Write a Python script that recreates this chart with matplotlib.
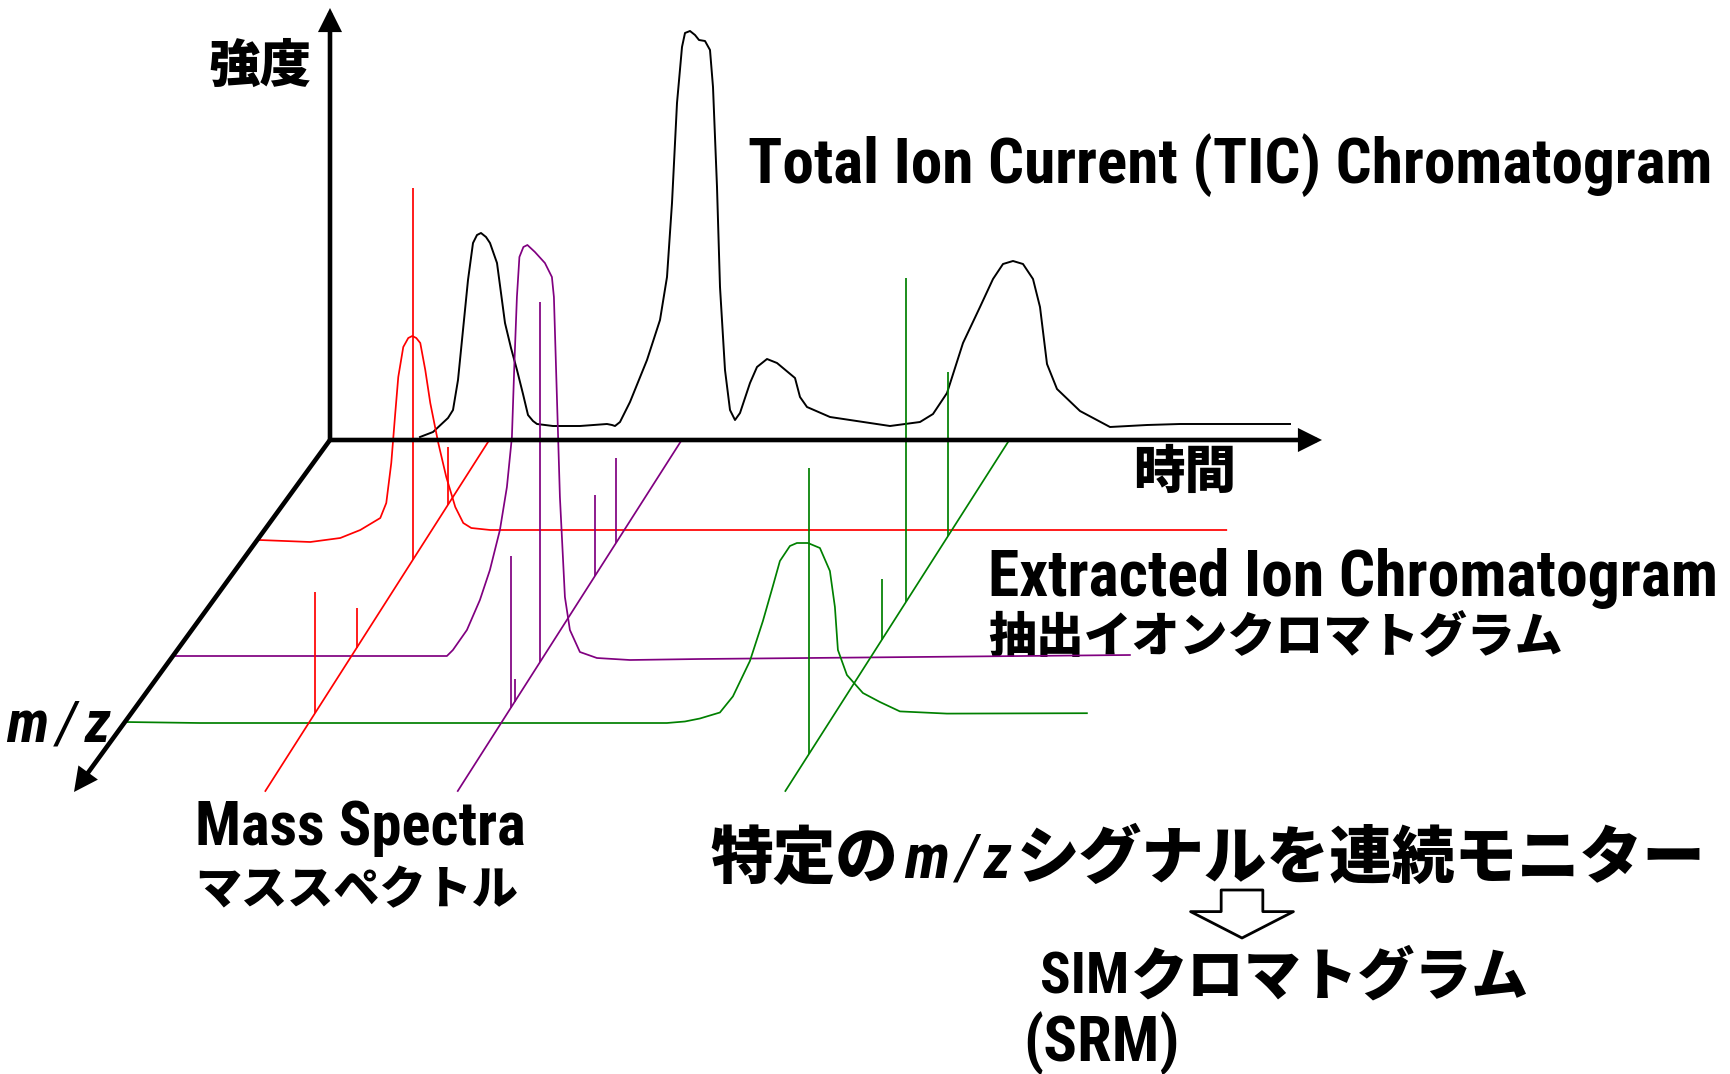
import numpy as np
import matplotlib
matplotlib.use("Agg")
import matplotlib.pyplot as plt
from matplotlib import font_manager

# ---------------- data (time / intensity / m/z-depth units) ----------------
# Total ion current chromatogram
TIC_TIME = [90, 103, 118, 123, 128, 133, 138, 143, 147, 151, 156, 160, 167, 175, 181, 187, 193, 198, 203, 207,
            223, 250, 277, 282, 285, 290, 300, 317, 330, 337, 342, 347, 352, 355, 360, 365, 369, 375, 380, 383,
            387, 390, 395, 400, 405, 410, 420, 427, 437, 447, 465, 470, 477, 500, 560, 590, 603, 617, 633, 650,
            663, 673, 683, 693, 703, 710, 717, 727, 750, 780, 817, 850, 960]
TIC_INT = [3, 8, 22, 30, 60, 110, 160, 197, 205, 207, 203, 197, 177, 117, 92, 70, 46, 25, 19, 16,
           14, 14, 16, 15, 14, 18, 38, 80, 120, 163, 237, 337, 393, 407, 409, 405, 400, 399, 390, 353,
           253, 153, 70, 30, 20, 27, 57, 73, 81, 77, 62, 43, 33, 23, 14, 18, 26, 47, 97, 133,
           161, 176, 179, 176, 161, 133, 76, 51, 29, 13, 15, 16, 16]

# Extracted ion chromatograms (one per m/z level)
EIC_DEPTH = [100, 216, 282]          # red, purple, green m/z level
RED_TIME = [2, 53, 83, 103, 123, 129, 134, 138, 141, 146, 151, 155, 159, 163, 168, 173, 181, 189, 198, 206,
            214, 233, 443, 969]
RED_INT = [0, -2, 2, 10, 22, 37, 77, 127, 163, 193, 202, 204, 202, 197, 170, 137, 97, 63, 33, 17,
           12, 10, 10, 10]
PURPLE_TIME = [0, 27, 274, 280, 294, 307, 317, 327, 334, 339, 341.5, 344, 346.5, 350.5, 354.5, 362, 372, 379,
               381, 384, 387, 392, 397, 407, 424, 457, 527, 957]
PURPLE_INT = [0, 0, 0, 6, 26, 56, 86, 126, 169, 219, 293, 359, 399, 409, 411, 404, 393, 379,
              359, 259, 159, 59, 26, 4, -2, -4, -3, 1]
GREEN_TIME = [0, 75, 542, 560, 575, 595, 608, 625, 638, 648, 655, 665, 672, 683, 695, 705, 710, 713, 722,
              738, 755, 775, 822, 962]
GREEN_INT = [0, -1, -1, 0.5, 3.5, 9.5, 25.6, 61, 101, 136, 161, 176, 179, 179, 174, 151, 115, 72, 47,
             29, 20, 10.6, 8.4, 8.8]

# Mass spectra (time of each spectrum, stick m/z positions and intensities)
SPEC_TIME = [159.3, 351.7, 679.3]
RED_MS_MZ = [65, 120, 208, 273]
RED_MS_INT = [58, 372, 40, 121]
PURPLE_MS_MZ = [103, 136, 222, 262, 268]
PURPLE_MS_INT = [85, 81, 360, 23, 152]
GREEN_MS_MZ = [96, 162, 200, 313.5]
GREEN_MS_INT = [164, 324, 61, 286]

# axis extents
INT_MAX = 432
TIME_MAX = 992
MZ_MAX = 352
SPEC_MZ_MAX = 351

# ---------------- style / projection ----------------
AXIS_SKEW = -256 / 352     # x-shift per unit of m/z depth for the m/z axis
SPEC_SKEW = -223.3 / 350   # x-shift per unit of m/z depth for spectrum planes
RED, PURPLE, GREEN = "#ff0000", "#800080", "#008000"
TEXT_DX = -7               # small correction of text placement


def proj(t, inten, depth, skew):
    t = np.asarray(t, float)
    inten = np.asarray(inten, float)
    depth = np.asarray(depth, float)
    return t + skew * depth, inten - depth


fig = plt.figure(figsize=(17.31, 10.74), dpi=100)
ax = fig.add_axes([0, 0, 1, 1])
ax.set_xlim(-330, 1401)
ax.set_ylim(-634, 440)
ax.axis("off")

# fonts
names = {f.name for f in font_manager.fontManager.ttflist}
JP = "Noto Sans CJK JP"
LATIN = next((n for n in ["Roboto Condensed", "Liberation Sans Narrow", "DejaVu Sans Condensed"] if n in names), JP)
MIXED = [LATIN, JP, "DejaVu Sans"]

# ---- axes with arrows ----
axis_kw = dict(arrowstyle="-|>", color="black", lw=3.3, shrinkA=0, shrinkB=0, mutation_scale=30,
               joinstyle="miter", capstyle="butt")
ax.annotate("", xy=(0, INT_MAX), xytext=(0, -2), arrowprops=axis_kw, zorder=3)
ax.annotate("", xy=(TIME_MAX, 0), xytext=(-2, 0), arrowprops=axis_kw, zorder=3)
mx, my = proj(0, 0, MZ_MAX, AXIS_SKEW)
ax.annotate("", xy=(float(mx), float(my)), xytext=(0.8, 1.2), arrowprops=axis_kw, zorder=3)

# ---- TIC ----
ax.plot(TIC_TIME, TIC_INT, color="black", lw=1.4, zorder=2, solid_joinstyle="round")

# ---- EICs ----
for tt, ii, d, c in [(RED_TIME, RED_INT, EIC_DEPTH[0], RED),
                     (PURPLE_TIME, PURPLE_INT, EIC_DEPTH[1], PURPLE),
                     (GREEN_TIME, GREEN_INT, EIC_DEPTH[2], GREEN)]:
    x, y = proj(tt, ii, np.full(len(tt), d), AXIS_SKEW)
    ax.plot(x, y, color=c, lw=1.25, zorder=2, solid_joinstyle="round")

# ---- mass spectra ----
for ts, mz, it, c in [(SPEC_TIME[0], RED_MS_MZ, RED_MS_INT, RED),
                      (SPEC_TIME[1], PURPLE_MS_MZ, PURPLE_MS_INT, PURPLE),
                      (SPEC_TIME[2], GREEN_MS_MZ, GREEN_MS_INT, GREEN)]:
    x, y = proj([ts, ts], [0, 0], [0, SPEC_MZ_MAX], SPEC_SKEW)
    ax.plot(x, y, color=c, lw=1.25, zorder=2)
    bx, by = proj(np.full(len(mz), ts), np.zeros(len(mz)), mz, SPEC_SKEW)
    ax.vlines(bx, by, by + np.asarray(it, float), color=c, lw=1.25, zorder=2)

# ---- texts ----
fig.canvas.draw()
renderer = fig.canvas.get_renderer()


def fit_runs(runs, x0, x1, y, va="baseline", gap=0.0):
    x0 += TEXT_DX
    x1 += TEXT_DX
    texts = []
    for s, kw in runs:
        t = ax.text(x0, y, s, ha="left", va=va, fontsize=40, zorder=1, **kw)
        texts.append(t)
    total_gap = gap * (len(runs) - 1)
    for _ in range(3):
        widths = [t.get_window_extent(renderer).width for t in texts]
        scale = (x1 - x0 - total_gap) / sum(widths)
        for t in texts:
            t.set_fontsize(t.get_fontsize() * scale)
    widths = [t.get_window_extent(renderer).width for t in texts]
    x = x0
    for t, w in zip(texts, widths):
        t.set_x(x)
        x += w + gap
    return texts


JPB = dict(family=[JP, "DejaVu Sans"], fontweight="heavy")
MXB = dict(family=MIXED, fontweight="bold")
ITB = dict(family=[LATIN, "DejaVu Sans"], fontweight="bold", fontstyle="italic")
ITL = dict(family=[LATIN, "DejaVu Sans"], fontstyle="italic")

fit_runs([("強度", JPB)], -115, -12, 373, va="center")
fit_runs([("時間", JPB)], 810, 913, -33, va="center")
fit_runs([("Total Ion Current (TIC) Chromatogram", MXB)], 425, 1388, 257)
fit_runs([("Extracted Ion Chromatogram", MXB)], 665, 1395, -156)
fit_runs([("抽出イオンクロマトグラム", JPB)], 665, 1240, -198, va="center")
fit_runs([("m", ITB), ("/", ITL), ("z", ITB)], -317, -212, -302, gap=8)
fit_runs([("Mass Spectra", MXB)], -128, 203, -405)
fit_runs([("マススペクトル", JPB)], -128, 195, -451, va="center")
fit_runs([("特定の", JPB), ("m", ITB), ("/", ITL), ("z", ITB), ("シグナルを連続モニター", JPB)],
         387, 1384, -438, gap=6)
fit_runs([("SIM", MXB), ("クロマトグラム", JPB)], 717, 1206, -538, va="center", gap=2)
fit_runs([("(SRM)", MXB)], 700, 856, -603, va="center")

# hollow down arrow
ax.annotate("", xy=(912, -498), xytext=(912, -450),
            arrowprops=dict(arrowstyle="simple,head_length=1.9,head_width=7.4,tail_width=3.0",
                            fc="white", ec="black", lw=2.0, shrinkA=0, shrinkB=0, mutation_scale=10))

fig.savefig("out.png", dpi=100, facecolor="white")
